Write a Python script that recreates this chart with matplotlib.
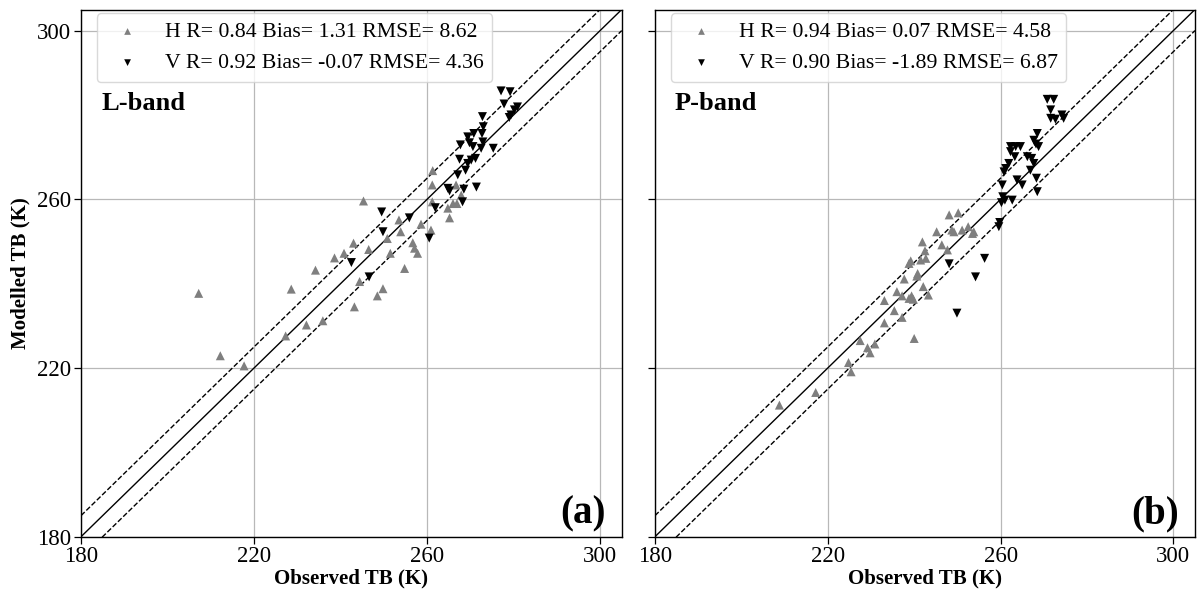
import matplotlib
matplotlib.use("Agg")
import matplotlib.pyplot as plt

plt.rcParams['font.family'] = ['Liberation Serif', 'DejaVu Serif']

# L-band (a)
l_h_obs = [207.2, 212.2, 217.7, 227.3, 228.6, 232.1, 235.9, 234.2, 238.6, 240.8,
           243.0, 246.5, 245.3, 244.4, 243.2, 248.5, 249.8, 251.5, 253.5, 253.9,
           250.8, 254.8, 256.7, 257.1, 257.8, 258.6, 260.9, 261.2, 261.2, 261.3,
           264.8, 265.2, 266.0, 266.9, 267.9, 266.7]
l_h_mod = [237.7, 222.9, 220.5, 227.6, 238.7, 230.2, 231.2, 243.2, 246.1, 247.2,
           249.6, 248.1, 259.6, 240.5, 234.5, 237.1, 238.8, 247.2, 255.1, 252.3,
           250.7, 243.6, 249.7, 248.4, 247.2, 254.1, 252.7, 259.4, 263.4, 266.8,
           257.9, 255.6, 259.0, 259.0, 261.0, 263.4]
l_v_obs = [242.5, 246.6, 249.5, 249.8, 255.9, 260.5, 261.9, 264.8, 265.2, 268.5,
           268.2, 271.4, 267.1, 267.5, 268.9, 269.4, 270.2, 271.2, 267.7, 269.8,
           270.6, 269.4, 270.8, 272.5, 272.9, 272.7, 273.0, 272.8, 275.3, 277.1,
           279.2, 277.8, 280.9, 280.2, 279.4, 279.0]
l_v_mod = [245.0, 241.6, 257.0, 252.3, 255.6, 250.8, 258.0, 262.6, 262.0, 262.4,
           259.4, 262.9, 265.8, 269.5, 266.9, 268.5, 269.3, 269.7, 272.9, 273.4,
           272.5, 274.8, 275.6, 272.1, 273.6, 275.6, 277.2, 279.6, 272.1, 285.7,
           285.5, 282.6, 281.9, 281.2, 280.0, 279.4]

# P-band (b)
p_h_obs = [208.8, 217.2, 224.8, 225.4, 227.5, 229.2, 229.8, 230.9, 233.1, 233.1,
           235.4, 236.0, 237.2, 237.2, 237.7, 238.8, 238.8, 240.0, 239.4, 239.8,
           242.1, 243.3, 240.6, 240.8, 239.2, 241.9, 241.5, 242.7, 242.5, 245.2,
           246.4, 247.7, 248.1, 250.2, 248.7, 249.2, 251.1, 252.5, 253.5, 253.8]
p_h_mod = [211.2, 214.2, 221.3, 219.1, 226.5, 224.8, 223.6, 225.7, 230.7, 236.0,
           233.6, 238.1, 237.1, 232.0, 241.1, 236.5, 244.8, 227.0, 237.1, 236.3,
           239.3, 237.3, 241.8, 242.4, 245.4, 249.9, 245.6, 246.0, 247.8, 252.3,
           249.2, 248.0, 256.3, 256.8, 252.7, 252.3, 252.7, 253.5, 251.9, 252.3]
p_v_obs = [249.9, 248.1, 254.2, 256.3, 259.6, 259.8, 260.2, 260.5, 261.0, 262.7,
           260.4, 260.8, 261.2, 261.9, 262.3, 262.3, 263.5, 264.6, 263.3, 266.2,
           267.2, 267.7, 266.9, 263.8, 265.0, 268.3, 268.5, 268.5, 267.7, 268.2,
           268.8, 270.8, 272.3, 271.6, 271.6, 272.7, 274.2, 274.6]
p_v_mod = [233.0, 244.7, 241.6, 246.0, 253.5, 254.5, 259.2, 260.6, 259.8, 259.8,
           263.4, 266.5, 267.3, 268.5, 271.3, 272.5, 272.5, 272.5, 270.1, 270.1,
           269.7, 268.5, 266.9, 264.6, 263.4, 265.0, 261.8, 275.6, 274.0, 273.1,
           272.5, 283.7, 283.7, 281.2, 279.2, 279.0, 280.0, 279.2]

panels = [
    dict(band='L-band', tag='(a)', h=(l_h_obs, l_h_mod), v=(l_v_obs, l_v_mod),
         h_lab='H R= 0.84 Bias= 1.31 RMSE= 8.62',
         v_lab='V R= 0.92 Bias= -0.07 RMSE= 4.36'),
    dict(band='P-band', tag='(b)', h=(p_h_obs, p_h_mod), v=(p_v_obs, p_v_mod),
         h_lab='H R= 0.94 Bias= 0.07 RMSE= 4.58',
         v_lab='V R= 0.90 Bias= -1.89 RMSE= 6.87'),
]

ticks = [180, 220, 260, 300]
lims = (180, 305)
offset = 5

fig = plt.figure(figsize=(11.97, 5.91), dpi=100)
ax_pos = [[0.0677, 0.0919, 0.4517, 0.892],
          [0.5472, 0.0919, 0.4511, 0.892]]

for i, p in enumerate(panels):
    ax = fig.add_axes(ax_pos[i])
    ax.set_axisbelow(True)
    ax.grid(True, color='#b8b8b8', lw=0.9)

    ax.plot(lims, lims, color='black', lw=1.0)
    ax.plot(lims, [lims[0] + offset, lims[1] + offset], color='black', lw=1.0, ls='--')
    ax.plot(lims, [lims[0] - offset, lims[1] - offset], color='black', lw=1.0, ls='--')

    ax.scatter(p['h'][0], p['h'][1], marker='^', s=42, color='#7f7f7f',
               edgecolors='none', label=p['h_lab'], zorder=3)
    ax.scatter(p['v'][0], p['v'][1], marker='v', s=42, color='black',
               edgecolors='none', label=p['v_lab'], zorder=3)

    ax.set_xlim(lims)
    ax.set_ylim(lims)
    ax.set_xticks(ticks)
    ax.set_yticks(ticks)
    ax.tick_params(labelsize=16.5, length=5, width=0.9, pad=2)
    if i == 1:
        ax.tick_params(labelleft=False)
    for s in ax.spines.values():
        s.set_linewidth(1.0)

    ax.set_xlabel('Observed TB (K)', fontsize=15, fontweight='bold', labelpad=1)
    if i == 0:
        ax.set_ylabel('Modelled TB (K)', fontsize=15, fontweight='bold', labelpad=5)

    ax.legend(loc='upper left', bbox_to_anchor=(0.0296, 0.993), borderaxespad=0,
              fontsize=15.7, handletextpad=0.7, borderpad=0.4, labelspacing=0.5,
              framealpha=0.8, edgecolor='#d0d0d0', fancybox=True, markerscale=0.75)

    ax.text(0.037, 0.81, p['band'], transform=ax.transAxes, fontsize=19,
            fontweight='bold', ha='left', va='baseline')
    ax.text(0.97, 0.008, p['tag'], transform=ax.transAxes, fontsize=28,
            fontweight='bold', ha='right', va='bottom')

fig.savefig('out.png', dpi=100)
